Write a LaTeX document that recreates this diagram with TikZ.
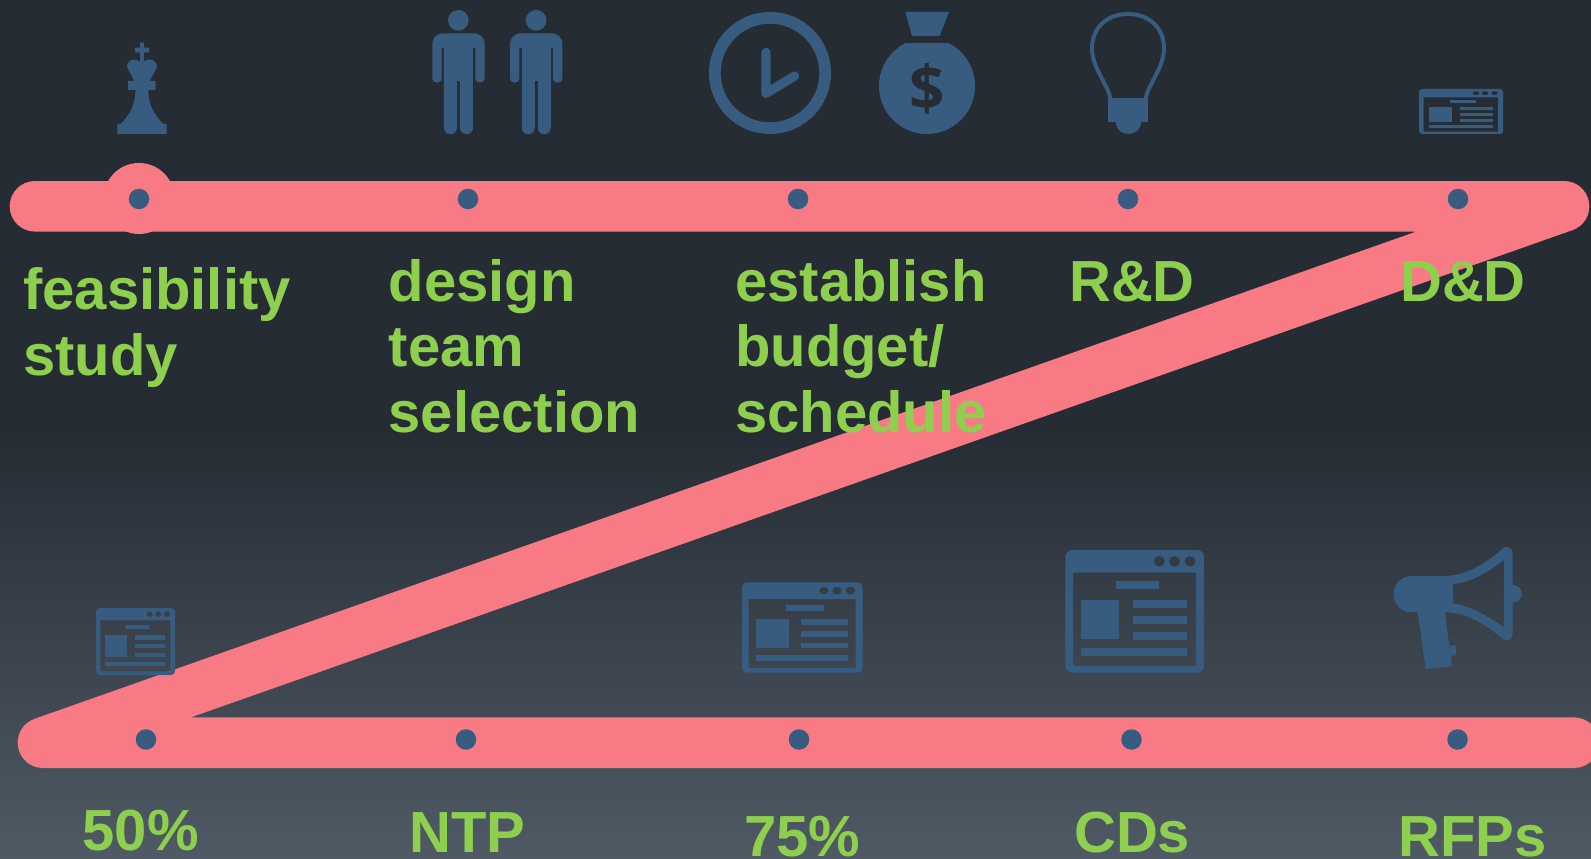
\documentclass[tikz,border=0pt]{standalone}
\usepackage{fontspec}
\setmainfont{Liberation Sans}
\newfontfamily\bagfont{Open Sans}
\definecolor{bgtop}{HTML}{262C34}
\definecolor{bgbot}{HTML}{4F5A65}
\definecolor{bandc}{HTML}{F87A85}
\definecolor{iconc}{HTML}{375C80}
\definecolor{textc}{HTML}{8ED04E}
\tikzset{
  band/.style={line width=50.6pt,draw=bandc,line cap=round,line join=round},
  icon/.style={fill=iconc,draw=none},
  dotnode/.style={circle,fill=iconc,draw=none,minimum size=20.5pt,inner sep=0pt},
  label/.style={anchor=base west,inner sep=0pt,text=textc,align=left,font=\fontsize{58}{65.6}\selectfont\bfseries}
}
\newcommand{\personicon}[1]{%
\begin{scope}[shift={(#1,0)},scale=1/3]
\fill[icon] (1135,61) circle (31);
\fill[icon] (1085,143) -- (1085,234) .. controls (1085,253) and (1057,253) .. (1057,234)
 -- (1057,135) .. controls (1057,112) and (1070,100) .. (1092,100) -- (1179,100)
 .. controls (1201,100) and (1214,112) .. (1214,135) -- (1214,234)
 .. controls (1214,253) and (1186,253) .. (1186,234) -- (1186,143) -- (1179,143)
 -- (1179,383) .. controls (1179,409) and (1140,409) .. (1140,383) -- (1140,243) -- (1131,243)
 -- (1131,383) .. controls (1131,409) and (1092,409) .. (1092,383) -- (1092,143) -- cycle;
\end{scope}}
\newcommand{\browsericon}[5]{%
\begin{scope}[shift={(#1,#2)},xscale=#3/395,yscale=#4/368]
\path[icon,even odd rule,rounded corners=#5pt] (0,0) rectangle (395,368)
 [sharp corners] (22,68) rectangle (372,348)
 (268,34) circle (16) (311,34) circle (16) (355,34) circle (16);
\fill[icon] (145,93) rectangle (267,117);
\fill[icon] (45,150) rectangle (153,267);
\fill[icon] (194,150) rectangle (347,173);
\fill[icon] (194,198) rectangle (347,221);
\fill[icon] (194,246) rectangle (347,269);
\fill[icon] (45,294) rectangle (347,319);
\end{scope}}
\begin{document}
\begin{tikzpicture}[x=1pt,y=-1pt]
\useasboundingbox (0,0) rectangle (1591,859);
% background
\fill[bgtop] (0,0) rectangle (1591,431);
\shade[top color=bgtop,bottom color=bgbot] (0,430) rectangle (1591,859);
% band
\coordinate (tl) at (35,206.3);
\coordinate (tr) at (1564,206.3);
\coordinate (bl) at (43,742.7);
\coordinate (br) at (1574,742.7);
\draw[band] (tl) -- (tr) -- (bl) -- (br);
\node[circle,fill=bandc,draw=none,minimum size=71pt,inner sep=0pt] (halo) at (139,198.5) {};
% dots
\node[dotnode] (d1) at (139,199) {};
\node[dotnode] (d2) at (468,199) {};
\node[dotnode] (d3) at (798,199) {};
\node[dotnode] (d4) at (1128,199) {};
\node[dotnode] (d5) at (1458,199) {};
\node[dotnode] (e1) at (146,739.5) {};
\node[dotnode] (e2) at (466,739.5) {};
\node[dotnode] (e3) at (799,739.5) {};
\node[dotnode] (e4) at (1131.5,739.5) {};
\node[dotnode] (e5) at (1457.5,739.5) {};
% king
\begin{scope}[shift={(80,0)},scale=1/3]
\fill[icon] (112,402) -- (260,402) -- (260,372) -- (250,372)
 .. controls (225,345) and (205,320) .. (205,270) -- (227,270) -- (227,243) -- (209,243)
 -- (229,205) .. controls (238,185) and (210,170) .. (192,185) -- (192,157) -- (207,157)
 -- (207,143) -- (192,143) -- (192,128) -- (180,128) -- (180,143) -- (165,143) -- (165,157)
 -- (180,157) -- (180,185) .. controls (162,170) and (134,185) .. (143,205) -- (163,243)
 -- (144,243) -- (144,270) -- (166,270) .. controls (166,320) and (147,345) .. (122,372)
 -- (112,372) -- cycle;
\end{scope}
\personicon{80}
\personicon{157.8}
% clock, bag, bulb
\begin{scope}[shift={(680,0)},scale=1/3]
\draw[iconc,line width=11.7pt] (270,219) circle (165.5);
\draw[iconc,line width=9.3pt,line cap=round,line join=round] (258,157) -- (258,280) -- (344,228);
\fill[icon] (676,36) -- (807,36) -- (779,108) -- (696,108) -- cycle;
\begin{scope}
\clip (500,131) rectangle (1000,500);
\fill[icon] (741,258) circle (144);
\end{scope}
\draw[iconc,line width=4pt] (1292,300) .. controls (1286,255) and (1236,205) .. (1236,145)
 .. controls (1236,80) and (1285,42) .. (1344,42) .. controls (1403,42) and (1452,80) .. (1452,145)
 .. controls (1452,205) and (1402,255) .. (1396,300);
\fill[icon] (1285,294) rectangle (1403,365);
\fill[icon] (1308,365) .. controls (1308,415) and (1384,415) .. (1384,365) -- cycle;
\end{scope}
\node[anchor=base,inner sep=0pt,text=bgtop,font=\bagfont\fontsize{62}{62}\selectfont\bfseries] (dollar) at (927,110.4) {\$};
% browsers
\browsericon{1419}{89}{84}{45}{3}
\browsericon{96}{608}{79}{67}{4}
\browsericon{742}{582.3}{120.7}{90.4}{5}
\browsericon{1065.3}{550}{138.7}{122.7}{7}
% megaphone
\begin{scope}[shift={(1040,530)},xscale=1/2.846,yscale=1/3]
\path[icon,even odd rule] (1060,138) -- (1150,138) .. controls (1210,138) and (1270,100) .. (1318,55)
 .. controls (1330,45) and (1345,55) .. (1345,70) -- (1345,165) .. controls (1380,165) and (1380,218) .. (1345,218)
 -- (1345,310) .. controls (1345,328) and (1330,338) .. (1315,325) .. controls (1270,285) and (1215,247) .. (1152,247)
 -- (1165,348) -- (1183,345) -- (1185,375) -- (1170,378) -- (1172,408) -- (1098,418) -- (1075,247) -- (1060,247)
 .. controls (989,247) and (989,138) .. (1060,138) -- cycle
 (1175,162) .. controls (1225,158) and (1270,130) .. (1320,90) -- (1320,292) .. controls (1270,255) and (1225,228) .. (1175,220) -- cycle;
\end{scope}
% labels
\node[label] (t1) at (23,375) {feasibility\\study};
\node[label] (t2) at (388.5,432.3) {design\\team\\selection};
\node[label] (t3) at (735,432.3) {establish\\budget/\\schedule};
\node[label] (t4) at (1069,301.7) {R\&D};
\node[label] (t5) at (1400,301.7) {D\&D};
\node[label] (b1) at (82.5,850.7) {50\%};
\node[label] (b2) at (409,852.7) {NTP};
\node[label] (b3) at (744,856) {75\%};
\node[label] (b4) at (1074,852.7) {CDs};
\node[label] (b5) at (1398,856) {RFPs};
\end{tikzpicture}
\end{document}
